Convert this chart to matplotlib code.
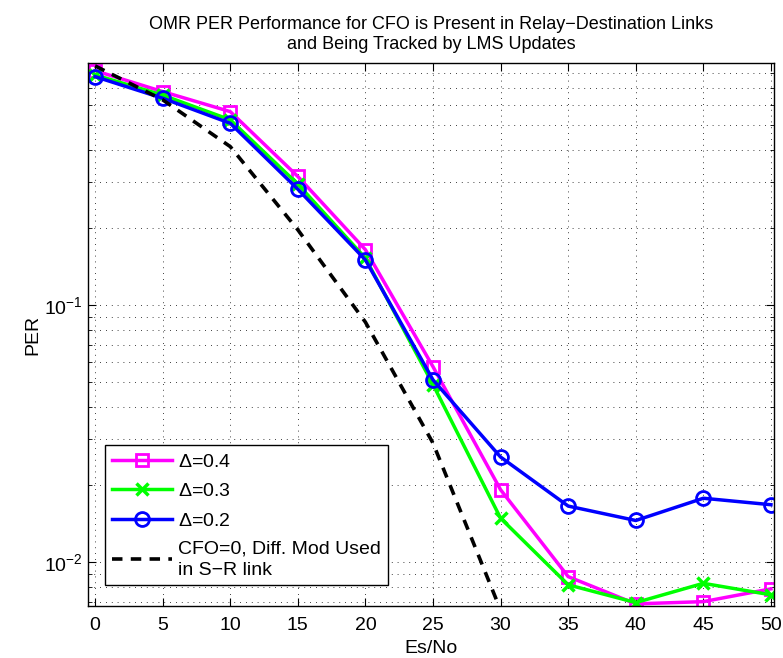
import numpy as np
import matplotlib
matplotlib.use("Agg")
import matplotlib.pyplot as plt
from matplotlib.ticker import LogLocator, NullLocator, MultipleLocator

plt.rcParams['font.family'] = ['Liberation Sans', 'DejaVu Sans']
plt.rcParams['mathtext.default'] = 'regular'

# Es/No values and PER curves
esno = [0, 5, 10, 15, 20, 25, 30, 35, 40, 45, 50]
per_d04 = [0.815, 0.676, 0.565, 0.316, 0.164, 0.0575, 0.0191, 0.00877, 0.00687, 0.00701, 0.00786]
per_d03 = [0.785, 0.655, 0.525, 0.295, 0.152, 0.049, 0.0148, 0.00815, 0.00695, 0.00826, 0.00745]
per_d02 = [0.773, 0.637, 0.509, 0.282, 0.1497, 0.0511, 0.0256, 0.0165, 0.0145, 0.0177, 0.0167]
esno_ref = [0, 5, 10, 15, 20, 25, 30]
per_ref = [0.851, 0.628, 0.413, 0.196, 0.0857, 0.029, 0.0065]

fig = plt.figure(figsize=(7.83, 6.58), dpi=100)
ax = fig.add_axes([0.1128, 0.0790, 0.8761, 0.8248])

ax.semilogy(esno, per_d04, color='#ff00ff', lw=2.5, marker='s', ms=9,
            mfc='none', mew=2, label=r'$\Delta$=0.4')
ax.semilogy(esno, per_d03, color='#00ff00', lw=2.5, marker='x', ms=9,
            mew=2.5, label=r'$\Delta$=0.3')
ax.semilogy(esno, per_d02, color='#0000ff', lw=2.5, marker='o', ms=10,
            mfc='none', mew=2, label=r'$\Delta$=0.2')
ax.semilogy(esno_ref, per_ref, color='k', lw=2.6, ls=(0, (2.9, 2.3)),
            label='CFO=0, Diff. Mod Used\nin S\u2212R link')

ax.set_xlim(-0.5, 50.25)
ax.set_ylim(0.00674, 0.871)
ax.xaxis.set_major_locator(MultipleLocator(5))
ax.xaxis.set_minor_locator(NullLocator())
ax.yaxis.set_major_locator(LogLocator(base=10))
ax.yaxis.set_minor_locator(LogLocator(base=10, subs=np.arange(2, 10)))

ax.grid(True, which='major', color='k', lw=0.6, ls=(0, (1, 6)))
ax.grid(True, which='minor', axis='y', color='k', lw=0.6, ls=(0, (1, 6)))

ax.tick_params(which='both', direction='in', top=True, right=True, labelsize=14)
ax.tick_params(which='major', length=6)
ax.tick_params(which='minor', length=3)
ax.tick_params(axis='x', pad=8)
ax.tick_params(axis='y', pad=4)
for s in ax.spines.values():
    s.set_linewidth(1.0)

ax.set_xlabel('Es/No', fontsize=14, labelpad=4)
ax.set_ylabel('PER', fontsize=14, labelpad=2)
ax.set_title('OMR PER Performance for CFO is Present in Relay\u2212Destination Links\n'
             'and Being Tracked by LMS Updates', fontsize=13, pad=10, linespacing=1.3)

leg = ax.legend(loc='lower left', bbox_to_anchor=(0.0243, 0.0381), borderaxespad=0,
                fontsize=14, handlelength=3.1, labelspacing=0.55, fancybox=False,
                framealpha=1, edgecolor='k', borderpad=0.35, handletextpad=0.3,
                handleheight=0.9)
leg.get_frame().set_linewidth(1.0)
for t in leg.get_texts():
    t.set_linespacing(1.3)

fig.savefig('out.png', dpi=100)
